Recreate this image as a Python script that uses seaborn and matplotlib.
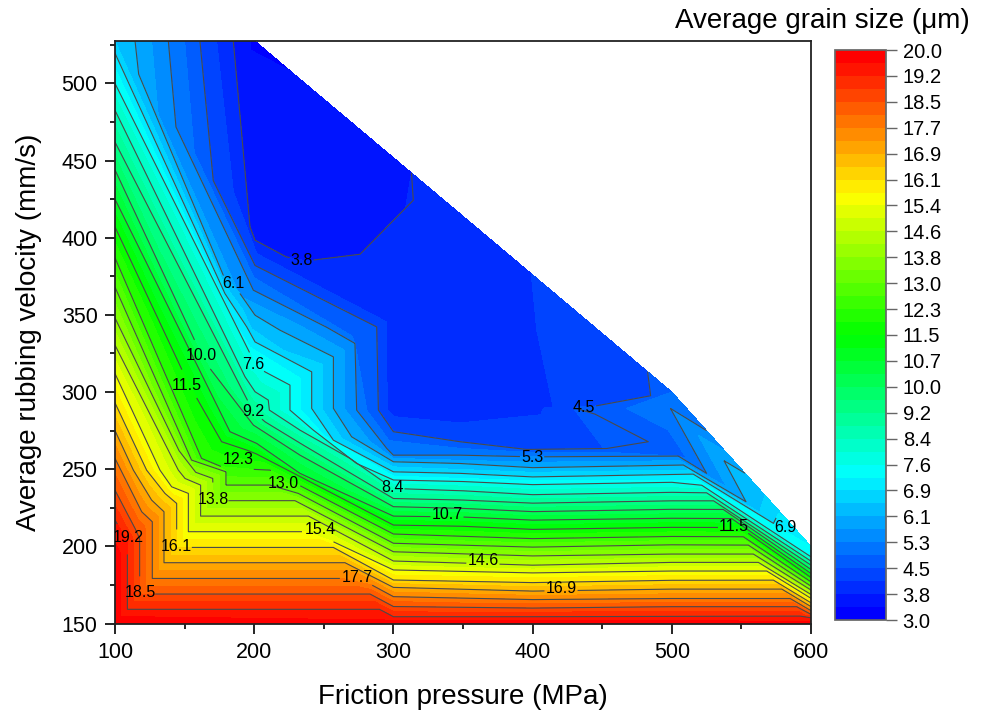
import numpy as np
import seaborn as sns
import matplotlib
matplotlib.use('Agg')
import matplotlib.pyplot as plt
import matplotlib.tri as mtri
from matplotlib.ticker import MultipleLocator

# colour scale of the map
levels = np.linspace(3.0, 20.0, 45)
stops = ['#0000ff', '#00ffff', '#00ff00', '#ffff00', '#ff0000']

# iso-lines, ordered from the lowest to the highest value
row_steps = [1, 2, 3, 4, 5, 6, 7, 8, 9, 10, 11, 12, 14, 16, 18, 20, 22, 24, 26, 28, 30, 32, 34, 36, 38, 40, 42, 43, 44]

x_min = [200.5]
y_min = [527.5]
x01 = [197, 199.4, 219.7, 226]
y01 = [527.5, 491, 494.5, 508]
x02 = [185, 197, 200.6, 223, 237.7, 276, 314.3, 313]
y02 = [527.5, 407, 398.4, 387.6, 385, 389.3, 424.3, 442]
x03 = [173, 185, 201.8, 295, 295.6, 301, 347.8, 413.7, 407.8, 414.7, 403, 399]
y03 = [527.5, 430, 389.7, 345.5, 288.3, 284, 280, 286, 289.6, 290.4, 340, 376.7]
x04 = [161, 170.6, 200.6, 288, 289.2, 300, 347.9, 395.7, 453.2, 483.1, 444.8, 429, 444.8, 484.8, 482.6]
y04 = [527.5, 437, 382, 342.2, 288.3, 274.3, 267.8, 262.8, 263.4, 267.8, 285.7, 290, 290.9, 297.6, 313.2]
x05 = [150, 157, 200, 270, 281, 297, 347.9, 395.7, 453, 510.7, 497.5, 467.5, 500]
y05 = [527.5, 455, 374, 336.5, 288, 268.5, 263.5, 261, 261, 257, 275.3, 289.4, 300]
x06 = [138.3, 143.8, 199.4, 252, 272.4, 273.6, 295.2, 300, 347.9, 400, 504.7, 525, 499, 525]
y06 = [527.5, 471.8, 366, 342, 331.5, 288.3, 263.5, 259.1, 259.1, 258, 258.5, 247.3, 289.4, 275]
x07 = [126.3, 131, 190, 235, 265, 265, 283, 300, 400, 506, 539.4, 519, 538]
y07 = [527.5, 480, 362, 342, 327, 289, 268, 257, 254.5, 255.5, 238.6, 272, 262]
x08 = [114.4, 117, 177.8, 189.8, 200.6, 218.5, 256.9, 256.9, 270, 300, 347.9, 400, 508.3, 553.3, 537.5, 552.6]
y08 = [527.5, 506, 375.7, 363.8, 349.8, 340.1, 322.8, 289.4, 271, 254.8, 253.7, 251, 252.7, 228.9, 255.5, 247.4]
x09 = [100, 178.4, 192, 198, 221, 249, 249, 263, 300, 400, 512, 563, 567]
y09 = [527.5, 370, 353, 341, 327, 318, 289, 270, 251.5, 248, 249.5, 222, 233]
x10 = [100, 179, 194.6, 200.6, 241.3, 241.3, 256.9, 300, 347.9, 400, 515.4, 573, 576.5, 581]
y10 = [519.6, 363.8, 342.3, 332.5, 313.1, 289.4, 268.8, 248.3, 247.3, 245, 246.8, 214.9, 221.3, 219]
x11 = [100, 186, 197, 233, 233, 250, 300, 400, 518, 600]
y11 = [510, 345, 329, 309, 289, 272, 245.5, 242.5, 243, 200]
x12 = [100, 200.6, 207.7, 225.7, 225.7, 242.5, 273.6, 300, 350, 400, 500, 521.5, 600]
y12 = [500, 318.5, 313.1, 304.5, 288.3, 275.3, 253.7, 243, 242, 240, 241.5, 239.6, 193.2]
x14 = [100, 193.4, 200.6, 210.1, 210.9, 232.9, 268.8, 292.8, 300, 350, 400, 500, 525, 600]
y14 = [482.6, 309.9, 300.2, 294.8, 288.3, 275.3, 257, 241.9, 237.5, 236, 233.5, 235, 234.7, 190.4]
x16 = [100, 199.4, 207.8, 235.3, 300, 350, 400, 500, 530, 600]
y16 = [462, 287.2, 280.7, 265.6, 231, 230, 228, 229.5, 229.5, 187.8]
x18 = [100, 162.2, 168.2, 199.4, 232.9, 300, 350, 400, 500, 537, 600]
y18 = [444, 323.9, 315.3, 278.6, 259.1, 225.7, 224.6, 222.5, 224, 223.9, 185]
x20 = [100, 182.6, 201.8, 232.9, 300, 350, 400, 500, 543, 600]
y20 = [425, 274.3, 266.7, 247.3, 219.6, 219, 217, 218.2, 218, 182.4]
x22 = [100, 152.7, 176.6, 194.6, 201.8, 300, 350, 400, 500, 549, 600]
y22 = [407, 305.6, 267.8, 262.4, 259.8, 213.8, 213, 211, 212.3, 212.2, 179.8]
x24 = [100, 162.2, 176.6, 199.4, 211.3, 300, 400, 500, 551.4, 600]
y24 = [387, 257, 251.6, 249.9, 249.4, 208, 205, 206.4, 206.2, 177]
x26 = [100, 155, 179.7, 179.7, 211.3, 231.7, 300, 400, 500, 555, 600]
y26 = [368, 255.9, 248.3, 239.7, 239.7, 234.3, 202, 199.5, 201, 200.8, 174.2]
x28 = [100, 146, 158, 170.2, 170.6, 229.3, 300, 400, 500, 558.6, 600]
y28 = [348, 262, 248, 244, 229.6, 229.6, 196.5, 193.8, 195, 195, 171.7]
x30 = [100, 145.5, 150.3, 161.5, 161.5, 239, 300, 400, 500, 562.2, 600]
y30 = [330.4, 249.4, 244, 239.7, 219.6, 219.6, 190.5, 187.8, 189.6, 189.6, 168.8]
x32 = [100, 132.3, 140.7, 152.7, 152.7, 236.5, 256.8, 300, 400, 500, 568.2, 600]
y32 = [312, 249.4, 238.6, 234.3, 209.5, 209.5, 203, 184.7, 182.8, 184, 184, 166.3]
x34 = [100, 122.7, 135.9, 144.3, 144.3, 256.8, 300, 400, 500, 573, 600]
y34 = [293, 249.4, 234.3, 227.8, 199.3, 199.3, 178.2, 176.5, 178, 178.1, 163.4]
x36 = [100, 113.2, 126.3, 135.2, 135.2, 265.2, 300, 400, 500, 579, 600]
y36 = [275, 249.4, 230, 222.4, 189.4, 189.4, 173.4, 171, 172.3, 172.3, 160.9]
x38 = [100, 119.2, 126.8, 126.8, 262.8, 284.4, 300, 400, 500, 585, 600]
y38 = [257, 222.4, 215.9, 179.2, 179.2, 175, 167.4, 165.5, 166.2, 166.2, 158.3]
x40 = [100, 114.4, 117.7, 117.7, 283.2, 300, 400, 500, 589.7, 600]
y40 = [236.4, 211.6, 205, 169.1, 169.1, 161, 160, 160.9, 160.9, 155.9]
x42 = [100, 108.9, 108.9, 290, 300, 400, 592, 600]
y42 = [217, 203, 159.2, 159.2, 154.4, 154.4, 154.8, 153.7]
x43 = [100, 104, 104, 300, 600]
y43 = [203, 195, 154.5, 152.2, 151.5]
x44 = [100, 100, 600]
y44 = [190, 150, 150]

rows_x = [x_min, x01, x02, x03, x04, x05, x06, x07, x08, x09, x10, x11, x12, x14, x16, x18, x20,
          x22, x24, x26, x28, x30, x32, x34, x36, x38, x40, x42, x43, x44]
rows_y = [y_min, y01, y02, y03, y04, y05, y06, y07, y08, y09, y10, y11, y12, y14, y16, y18, y20,
          y22, y24, y26, y28, y30, y32, y34, y36, y38, y40, y42, y43, y44]
rows_z = [3.1] + [levels[k] for k in row_steps]

# contour labels: step of the level, and where the text sits
label_steps = [2, 8, 12, 18, 22, 16, 24, 26, 28, 14, 20, 32, 42, 34, 30, 38, 40, 36, 4, 6, 22, 10]
label_x = [233.9, 184.8, 199.1, 161.8, 151.7, 199.1, 188.4, 220.7, 170.4, 299.7, 338.5, 247.3, 109.3, 143.8,
           364.4, 273.9, 118, 420.4, 436.9, 399.6, 544.7, 581.3]
label_y = [385.1, 370.5, 318, 323.9, 304.5, 287.6, 256.5, 241, 230.6, 238.4, 220.9, 210.6, 206, 200.2,
           191.1, 180.1, 169.8, 173, 290.2, 257.8, 213.1, 212.5]


def costura(xa, ya, xb, yb, inicio):
    # triangles of the strip between two neighbouring iso-lines
    tris = []
    i, j = 0, 0
    ib = inicio + len(xa)
    while i < len(xa) - 1 or j < len(xb) - 1:
        if i == len(xa) - 1:
            avanca_a = False
        elif j == len(xb) - 1:
            avanca_a = True
        else:
            da = np.hypot(xa[i + 1] - xb[j], ya[i + 1] - yb[j])
            db = np.hypot(xa[i] - xb[j + 1], ya[i] - yb[j + 1])
            avanca_a = da <= db
        if avanca_a:
            tris.append([inicio + i, inicio + i + 1, ib + j])
            i += 1
        else:
            tris.append([inicio + i, ib + j + 1, ib + j])
            j += 1
    return tris


xs, ys, zs, triangles = [], [], [], []
inicio = 0
for k in range(len(rows_x)):
    xs += rows_x[k]
    ys += rows_y[k]
    zs += [rows_z[k]] * len(rows_x[k])
    if k < len(rows_x) - 1:
        triangles += costura(rows_x[k], rows_y[k], rows_x[k + 1], rows_y[k + 1], inicio)
        inicio += len(rows_x[k])

malha = mtri.Triangulation(np.array(xs, float), np.array(ys, float), np.array(triangles))

sns.set_theme(style='ticks')
plt.rcParams['font.family'] = ['Liberation Sans', 'DejaVu Sans']
plt.rcParams['text.color'] = 'black'
plt.rcParams['axes.labelcolor'] = 'black'
plt.rcParams['xtick.labelcolor'] = 'black'
plt.rcParams['ytick.labelcolor'] = 'black'

W, H = 984, 711
fig = plt.figure(figsize=(W / 100, H / 100), dpi=100)
ax = fig.add_axes([115 / W, 1 - 623.5 / H, 696 / W, 582.5 / H])
cax = fig.add_axes([835 / W, 1 - 620 / H, 51 / W, 570 / H])

cores = sns.blend_palette(stops, n_colors=44)
mapa = ax.tricontourf(malha, np.array(zs), levels=levels, colors=cores)
linhas = ax.tricontour(malha, np.array(zs), levels=levels[2:43:2], colors='#4a4a4a', linewidths=0.8)

textos = linhas.clabel(fmt='%.1f', fontsize=11.5, colors='black', inline=True, inline_spacing=1,
                       manual=list(zip(label_x, label_y)))
for texto, passo, lx, ly in zip(textos, label_steps, label_x, label_y):
    texto.set_text('%.1f' % levels[passo])
    texto.set_rotation(0)
    texto.set_position((lx, ly))

ax.set_xlim(100, 600)
ax.set_ylim(150, 527.5)
ax.set_xticks(np.arange(100, 601, 100))
ax.xaxis.set_minor_locator(MultipleLocator(50))
ax.set_yticks(np.arange(150, 501, 50))
ax.yaxis.set_minor_locator(MultipleLocator(25))
ax.tick_params(which='major', length=7.5, width=1.2, labelsize=15.5, color='black', pad=3)
ax.tick_params(axis='x', which='major', pad=6)
ax.tick_params(axis='y', which='major', pad=5)
ax.tick_params(which='minor', length=3.8, width=1.2, color='black')
for lado in ax.spines.values():
    lado.set_linewidth(1.3)
    lado.set_color('#222222')
ax.set_xlabel('Friction pressure (MPa)', fontsize=20, labelpad=15)
ax.set_ylabel('Average rubbing velocity (mm/s)', fontsize=20, labelpad=14)

cbar = fig.colorbar(mapa, cax=cax, ticks=levels[::2], format='%.1f')
cbar.ax.minorticks_off()
cbar.ax.tick_params(length=8, width=1, color='#666666', labelsize=14.5, pad=4)
cbar.outline.set_edgecolor('#666666')
fig.text(970 / W, 1 - 21 / H, 'Average grain size (μm)', fontsize=20, ha='right', va='center')

fig.savefig('out.png', dpi=100)
